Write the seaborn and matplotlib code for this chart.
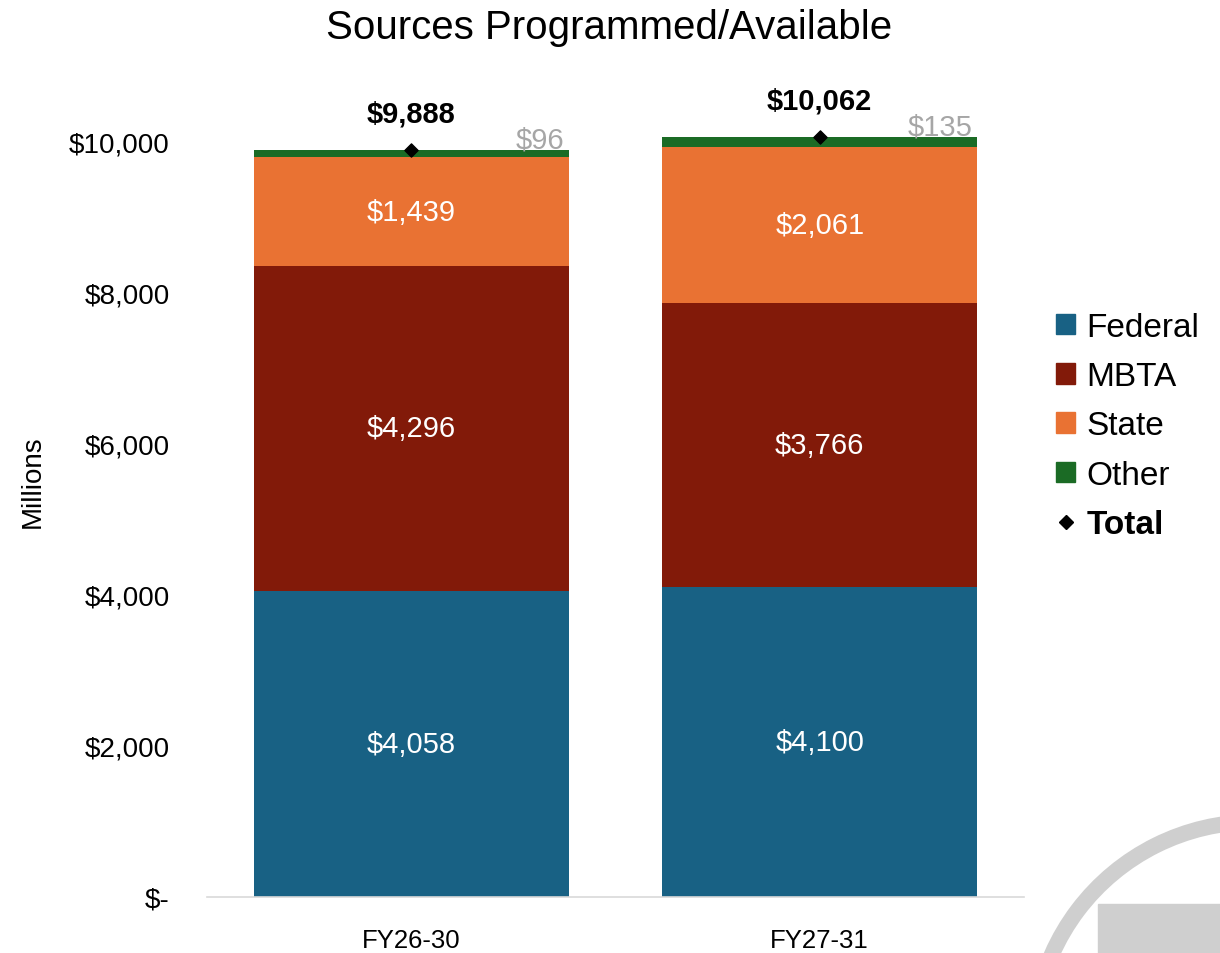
import numpy as np
import matplotlib
matplotlib.use("Agg")
import matplotlib.pyplot as plt
import matplotlib.patches as mpatches
from matplotlib.lines import Line2D
import seaborn as sns

# --- data (millions of dollars) ---
periods = ["FY26-30", "FY27-31"]
federal = [4058, 4100]
mbta = [4296, 3766]
state = [1439, 2061]
other = [96, 135]
totals = [9888, 10062]

sources = ["Federal", "MBTA", "State", "Other"]
colors = ["#186184", "#821A09", "#E97233", "#1B6B25"]
ytick_vals = [0, 2000, 4000, 6000, 8000, 10000]
ytick_labels = ["$-", "$2,000", "$4,000", "$6,000", "$8,000", "$10,000"]

sns.set_style("white")
plt.rcParams["font.family"] = ["Liberation Sans", "DejaVu Sans"]
plt.rcParams["text.color"] = "black"
plt.rcParams["xtick.color"] = "black"
plt.rcParams["ytick.color"] = "black"

W, H = 1220, 954
fig = plt.figure(figsize=(W / 100, H / 100), dpi=100)
ax = fig.add_axes([207 / W, 1 - 898 / H, (1024 - 207) / W, (898 - 105) / H])

series = [federal, mbta, state, other]
bottom = np.zeros(len(periods))
for name, vals, col in zip(sources, series, colors):
    sns.barplot(x=periods, y=vals, bottom=bottom, color=col, width=0.772,
                ax=ax, saturation=1, linewidth=0)
    if name != "Other":
        for i, v in enumerate(vals):
            ax.text(i, bottom[i] + v / 2, f"${v:,}", ha="center", va="center",
                    color="white", fontsize=21)
    else:
        for i, v in enumerate(vals):
            ax.text(i + 0.375, bottom[i] + v + 35, f"${v:,}", ha="right", va="baseline",
                    color="#A6A6A6", fontsize=21)
    bottom = bottom + np.array(vals)

# total markers and labels
ax.scatter(range(len(periods)), totals, marker="D", s=45, color="black", zorder=5)
for i, t in enumerate(totals):
    ax.text(i, t + 480, f"${t:,}", ha="center", va="center", fontsize=21,
            fontweight="bold", color="black")

ax.set_xlim(-0.5, 1.5)
ax.set_ylim(0, 10500)
ax.set_yticks(ytick_vals, ytick_labels)
ax.tick_params(axis="y", length=0, pad=27, labelsize=20)
ax.set_xticks(range(len(periods)), periods)
ax.tick_params(axis="x", which="major", length=0, pad=22, labelsize=18.5)
ax.set_xticks([-0.5, 0.5, 1.5], minor=True)
ax.tick_params(axis="x", which="minor", length=10, width=1.2, color="#D9D9D9")
for s in ["top", "right", "left"]:
    ax.spines[s].set_visible(False)
ax.spines["bottom"].set_color("#D9D9D9")
ax.spines["bottom"].set_linewidth(1.2)
ax.set_xlabel("")
ax.set_ylabel("")

fig.text(33 / W, 1 - 482 / H, "Millions", rotation=90, ha="center", va="center",
         fontsize=20)
fig.text(609 / W, 1 - 39 / H, "Sources Programmed/Available", ha="center", va="baseline",
         fontsize=29)

# legend
handles = [mpatches.Patch(color=c, label=n) for n, c in zip(sources, colors)]
handles.append(Line2D([], [], marker="D", color="black", linestyle="none",
                      markersize=7, label="Total"))
leg = fig.legend(handles=handles, loc="center left", bbox_to_anchor=(1056 / W, 1 - 427 / H),
                 frameon=False, fontsize=24, handlelength=0.58, handleheight=0.58,
                 handletextpad=0.33, labelspacing=0.55, borderpad=0, borderaxespad=0)
leg.get_texts()[-1].set_fontweight("bold")

# decorative logo fragment in the corner
cx, cy, R = 1255, 1045, 222
fig.patches.append(mpatches.Arc((cx / W, 1 - cy / H), 2 * R / W, 2 * R / H,
                                theta1=90, theta2=200, lw=11.5, color="#CFCFCF",
                                transform=fig.transFigure, figure=fig))
fig.patches.append(mpatches.Rectangle((1098 / W, 0), (W - 1098) / W, (H - 905) / H,
                                      color="#CFCFCF", transform=fig.transFigure,
                                      figure=fig))

fig.savefig("out.png", dpi=100)
